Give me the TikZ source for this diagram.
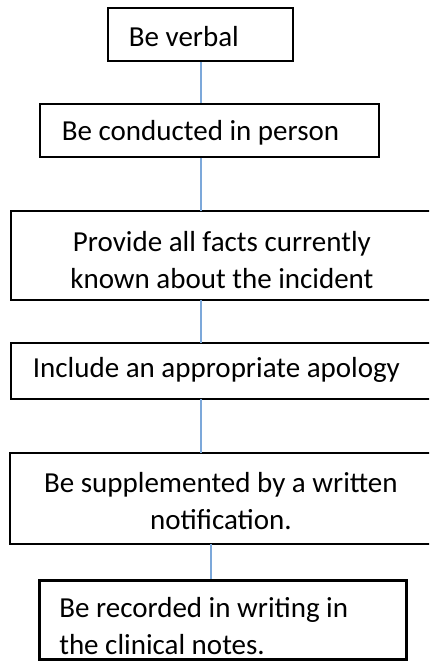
\documentclass[tikz,border=0pt]{standalone}
\usepackage{fontspec}
\setmainfont{Carlito}
\definecolor{linkblue}{RGB}{124,168,218}
\tikzset{
	flowbox/.style={draw,line width=1.8pt,anchor=north west,inner ysep=0pt,text depth=0pt,
		font=\fontsize{29}{37}\selectfont},
	twoline/.style={text depth=37pt},
	offpage/.style={draw=none,text width=440pt,execute at begin node={\rightskip=40pt plus 1fil}},%right side runs off the page
	link/.style={draw=linkblue,line width=2pt}
}
\begin{document}
\begin{tikzpicture}[x=1pt,y=-1pt]
		\useasboundingbox (0,0) rectangle (429,668);%picture frame
		\clip (0,0) rectangle (429,668);
		% boxes, placed by their top left corners
		\node[flowbox,minimum height=53pt,text height=25pt,text width=143pt,inner xsep=21pt,align=flush left] (verbal) at (107,7) {Be verbal};
		\node[flowbox,minimum height=53pt,text height=21pt,text width=295pt,inner xsep=22pt,align=flush left] (person) at (39,103) {Be conducted in person};
		\node[flowbox,twoline,offpage,minimum height=87pt,text height=30pt,inner xsep=10pt,align=flush center] (facts) at (11,211) {Provide all facts currently\\known about the incident};
		\node[flowbox,offpage,minimum height=54pt,text height=14pt,inner xsep=21pt,align=flush left] (apology) at (11,343) {Include an appropriate apology};
		\node[flowbox,twoline,offpage,minimum height=89pt,text height=26pt,inner xsep=10pt,align=flush center] (written) at (10,453) {Be supplemented by a written\\notification.};
		\node[flowbox,twoline,line width=2.6pt,minimum height=79pt,text height=32pt,text width=327pt,inner xsep=20pt,align=flush left] (notes) at (38,579) {Be recorded in writing in\\the clinical notes.};
		% open boxes: top, left and bottom only
		\foreach \b in {facts,apology,written}
			\draw[line width=1.8pt] (\b.north east)--(\b.north west)--(\b.south west)--(\b.south east);
		% connectors
		\coordinate (xa) at (201,0);
		\coordinate (xb) at (211,0);
		\draw[link] (verbal.south -| xa) -- (person.north -| xa);
		\draw[link] (person.south -| xa) -- (facts.north -| xa);
		\draw[link] (facts.south -| xa) -- (apology.north -| xa);
		\draw[link] (apology.south -| xa) -- (written.north -| xa);
		\draw[link] (written.south -| xb) -- (notes.north -| xb);
	\end{tikzpicture}
\end{document}
